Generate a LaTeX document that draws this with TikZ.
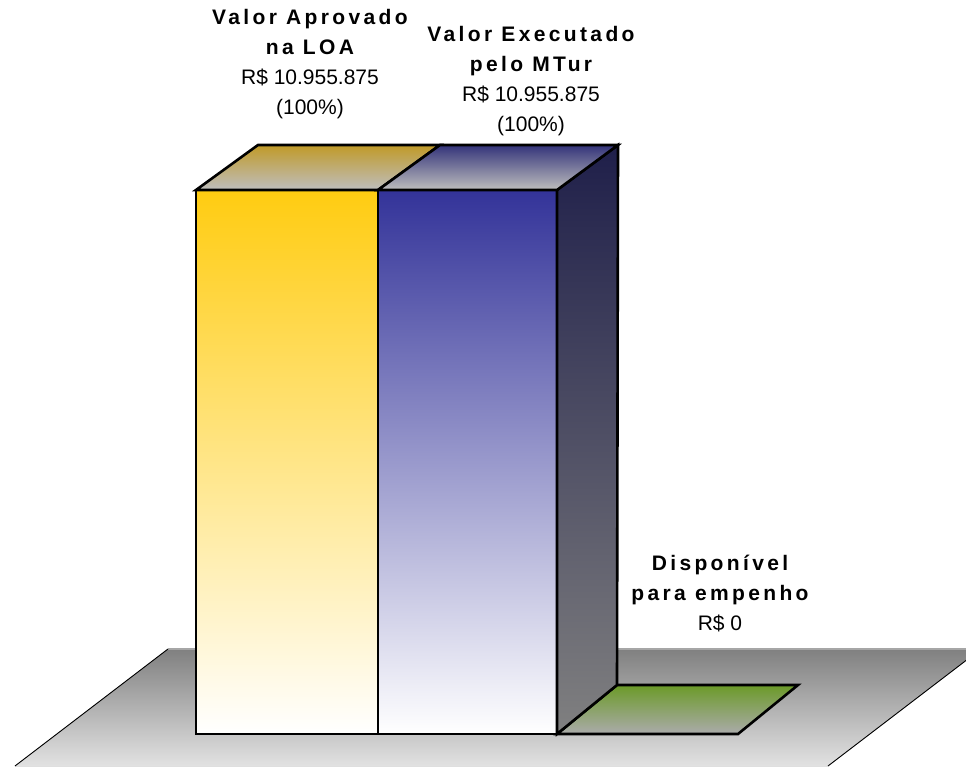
\documentclass[tikz,border=0pt]{standalone}
\usepackage{fontspec}
\setmainfont{Liberation Sans}
\newfontface\spacedbold[LetterSpace=16]{Liberation Sans Bold}
\definecolor{gold}{RGB}{255,204,17}
\definecolor{goldtop}{RGB}{192,154,40}
\definecolor{navy}{RGB}{51,51,153}
\definecolor{navytop}{RGB}{52,52,122}
\definecolor{sidetop}{RGB}{31,31,74}
\definecolor{sidebot}{RGB}{128,128,128}
\definecolor{greenback}{RGB}{107,154,40}
\definecolor{topgray}{RGB}{190,190,190}
\definecolor{floortop}{RGB}{128,128,128}
\definecolor{floorbot}{RGB}{226,226,226}
\begin{document}
\begin{tikzpicture}[x=1pt,y=1pt,
  barline/.style={line width=2.6pt, line join=miter},
  lbl/.style={align=center, inner sep=0pt, anchor=north, font=\fontsize{21}{30}\selectfont}]
\useasboundingbox (0,0) rectangle (966,766);
\begin{scope}
\clip (0,0) rectangle (966,766);
% floor
\fill[top color=floortop, bottom color=floorbot] (168,117) -- (981,117) -- (828,0) -- (15,0) -- cycle;
\draw[gray!70, line width=1.2pt] (168,117) -- (981,117);
\draw[line width=0.9pt] (168,117) -- (15,0);
\draw[line width=0.9pt] (981,117) -- (828,0);
\end{scope}
% green slab (zero bar)
\draw[barline, top color=greenback, bottom color=topgray!90!black] (557,32) -- (738,32) -- (798,81) -- (617,81) -- cycle;
% bar 1 front
\draw[barline, top color=gold, bottom color=white] (196,32) rectangle (378,576);
% bar 2 front
\draw[barline, top color=navy, bottom color=white] (378,32) rectangle (557,576);
% bar 2 side
\draw[barline, top color=sidetop, bottom color=sidebot] (557,32) -- (617,81) -- (618,621) -- (557,576) -- cycle;
% top faces
\draw[barline, top color=goldtop, middle color=goldtop!40!topgray, bottom color=topgray] (196,576) -- (378,576) -- (440,621) -- (258,621) -- cycle;
\draw[barline, top color=navytop, middle color=navytop!40!topgray, bottom color=topgray] (378,576) -- (557,576) -- (618,621) -- (440,621) -- cycle;
% labels
\node[lbl] (loa) at (310,757) {{\spacedbold Valor Aprovado}\\{\spacedbold na LOA}\\R\$ 10.955.875\\(100\%)};
\node[lbl] (mtur) at (531,740) {{\spacedbold Valor Executado}\\{\spacedbold pelo MTur}\\R\$ 10.955.875\\(100\%)};
\node[lbl] (disp) at (720,211) {{\spacedbold Disponível}\\{\spacedbold para empenho}\\R\$ 0};
\end{tikzpicture}
\end{document}
